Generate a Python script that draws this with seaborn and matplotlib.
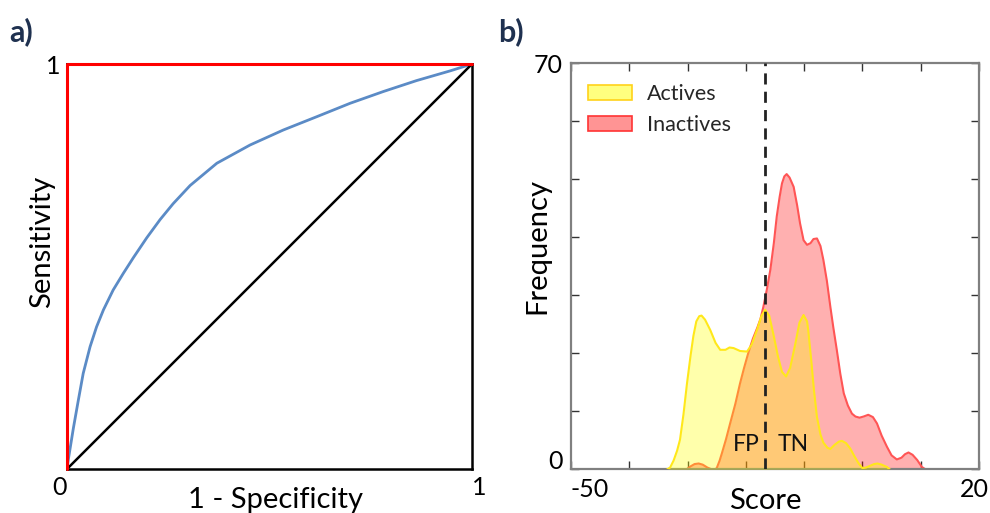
import numpy as np
import pandas as pd
import matplotlib
matplotlib.use("Agg")
import matplotlib.pyplot as plt
from matplotlib.patches import Patch
from matplotlib.transforms import ScaledTranslation
import seaborn as sns

# ---------------- data ----------------
roc_fpr = [0, 0.004, 0.0156, 0.028, 0.040, 0.057, 0.073, 0.090, 0.114, 0.139, 0.164,
           0.197, 0.230, 0.262, 0.304, 0.370, 0.452, 0.534, 0.617, 0.699, 0.781,
           0.863, 0.946, 1.0]
roc_tpr = [0, 0.028, 0.100, 0.170, 0.236, 0.302, 0.351, 0.393, 0.442, 0.483, 0.522,
           0.571, 0.616, 0.655, 0.700, 0.755, 0.800, 0.837, 0.870, 0.903, 0.932,
           0.959, 0.983, 1.0]
perfect_x = [0, 0, 1]
perfect_y = [0, 1, 1]
random_x = [0, 1]
random_y = [0, 1]

actives_x = [-33.5, -33.0, -32.4, -31.8, -31.3, -30.7, -30.1, -29.5, -29.0, -28.5, -28.0,
             -27.6, -27.0, -26.1, -25.2, -24.4, -23.5, -22.8, -22.1, -21.0, -19.8, -19.0,
             -18.1, -17.3, -16.7, -16.0, -15.3, -14.5, -13.8, -13.1, -12.4, -11.5, -10.8,
             -10.1, -9.5, -9.3, -8.8, -8.3, -7.8, -7.2, -6.7, -6.0, -5.5, -4.8, -4.0, -3.5,
             -2.8, -2.1, -1.4, -0.7, 0.0, 0.6, 1.3, 2.0, 2.6, 3.3, 4.2, 4.7]
actives_y = [0, 0.3, 1.5, 3.2, 5.1, 9.5, 14.8, 19.5, 23.0, 25.5, 26.4,
             26.5, 25.8, 24.0, 21.8, 20.6, 20.6, 21.0, 20.9, 20.4, 20.3, 21.5,
             24.0, 26.5, 27.5, 26.5, 23.4, 19.5, 16.8, 16.0, 17.5, 21.7, 25.3,
             26.6, 25.5, 24.0, 19.0, 13.5, 9.0, 6.0, 4.6, 3.7, 3.5, 4.2, 4.8, 4.9,
             4.5, 3.6, 2.3, 1.1, 0.2, 0.3, 0.6, 0.9, 1.0, 0.8, 0.4, 0]

inactives_x = [-31.0, -30.1, -29.5, -28.8, -28.1, -27.4, -26.6, -26.0, -25.3, -25.0, -24.5,
               -24.1, -23.4, -22.7, -21.8, -21.0, -20.3, -19.6, -18.8, -18.0, -17.5, -17.0,
               -16.4, -15.8, -15.2, -14.7, -14.2, -13.8, -13.4, -13.0, -12.5, -11.8, -11.2,
               -10.7, -10.1, -9.5, -8.9, -8.4, -7.8, -7.2, -6.7, -6.1, -5.5, -5.0, -4.4,
               -3.8, -3.2, -2.5, -1.8, -1.2, -0.5, 0.2, 1.0, 1.8, 2.5, 3.3, 4.2, 5.0, 5.9,
               6.7, 7.3, 7.9, 8.6, 9.4, 10.2, 10.8]
inactives_y = [0, 0.05, 0.5, 0.9, 1.0, 0.8, 0.3, 0.05, 0.0, 0.2, 1.5,
               2.8, 5.2, 7.9, 11.3, 14.8, 17.5, 20.0, 22.5, 24.5, 25.9, 28.0,
               31.0, 34.4, 39.0, 43.6, 47.0, 49.3, 50.5, 50.9, 50.3, 48.7, 45.5,
               42.4, 39.5, 38.7, 39.0, 39.7, 39.8, 38.5, 36.1, 32.5, 28.0, 24.5, 20.6,
               16.5, 13.1, 11.0, 9.6, 9.1, 8.9, 9.1, 9.4, 9.0, 7.9, 5.8, 3.9, 2.4, 1.7,
               2.0, 2.6, 2.9, 2.5, 1.6, 0.4, 0]

threshold = -16.8
series_names = ["Actives", "Inactives"]
score_ticks = [-50, -40, -30, -20, -10, 0, 10, 20]
freq_ticks = [0, 10, 20, 30, 40, 50, 60, 70]

# ---------------- style ----------------
sns.set_theme(style="white")
plt.rcParams['font.family'] = ['Lato', 'DejaVu Sans']

fig = plt.figure(figsize=(9.9, 5.13), dpi=100)
axA = fig.add_axes([67/990, 1-469/513, 405/990, 405/513])
axB = fig.add_axes([571/990, 1-469.3/513, 408/990, 406/513])

TICK_FS = 18
LABEL_FS = 21

# ---------------- panel a ----------------
df_roc = pd.DataFrame({"fpr": roc_fpr, "tpr": roc_tpr})
sns.lineplot(data=df_roc, x="fpr", y="tpr", ax=axA, color="#5B8BC6", lw=2,
             sort=False, estimator=None)
sns.lineplot(x=random_x, y=random_y, ax=axA, color="black", lw=1.8,
             sort=False, estimator=None)
sns.lineplot(x=perfect_x, y=perfect_y, ax=axA, color="#FF0000", lw=2.2,
             sort=False, estimator=None, clip_on=False, zorder=5)
axA.set_xlim(0, 1)
axA.set_ylim(0, 1)
for s in axA.spines.values():
    s.set_color("black")
    s.set_linewidth(1.8)
axA.set_xticks([0, 1])
axA.set_xticklabels(["0", "1"])
axA.set_yticks([1])
axA.set_yticklabels(["1"])
axA.tick_params(length=0, labelsize=TICK_FS, pad=5, colors="black")
axA.get_xticklabels()[0].set_ha("right")
axA.get_xticklabels()[1].set_ha("left")
axA.set_xlabel("1 - Specificity", fontsize=LABEL_FS, color="black")
axA.set_ylabel("Sensitivity", fontsize=LABEL_FS, color="black")
axA.xaxis.set_label_coords(0.514, -0.045)
axA.yaxis.set_label_coords(-0.062, 0.56)
axA.yaxis.label.set_va("center")

# ---------------- panel b ----------------
df_act = pd.DataFrame({"score": actives_x, "freq": actives_y})
df_inact = pd.DataFrame({"score": inactives_x, "freq": inactives_y})

red_fill = (1.0, 0.0, 0.0, 0.31)
yel_fill = (1.0, 1.0, 0.0, 0.33)
red_edge = "#FF5555"
yel_edge = "#FFE81A"

axB.fill_between(df_inact["score"], 0, df_inact["freq"], color=red_fill, lw=0, zorder=1)
sns.lineplot(data=df_inact, x="score", y="freq", ax=axB, color=red_edge, lw=1.5,
             sort=False, estimator=None, zorder=2)
axB.fill_between(df_act["score"], 0, df_act["freq"], color=yel_fill, lw=0, zorder=3)
sns.lineplot(data=df_act, x="score", y="freq", ax=axB, color=yel_edge, lw=1.5,
             sort=False, estimator=None, zorder=4)
axB.axvline(threshold, color="#222222", lw=2, ls=(0, (4, 2.6)), zorder=5)

axB.text(-19.9, 4.2, "FP", fontsize=16.5, ha="center", va="center", color="#111111", zorder=6)
axB.text(-11.9, 4.2, "TN", fontsize=16.5, ha="center", va="center", color="#111111", zorder=6)

axB.set_xlim(-50, 20)
axB.set_ylim(0, 70)
axB.set_xticks(score_ticks)
axB.set_xticklabels(["-50"] + [""] * 6 + ["20"])
axB.set_yticks(freq_ticks)
axB.set_yticklabels(["0"] + [""] * 6 + ["70"])
axB.tick_params(direction="in", length=6, width=1, colors="#333333",
                top=True, right=True, bottom=True, left=True, labelsize=TICK_FS, pad=6)
axB.tick_params(labelcolor="black")
xt = axB.get_xticklabels()
xt[0].set_ha("left")
xt[-1].set_transform(xt[-1].get_transform() + ScaledTranslation(-5/100, 0, fig.dpi_scale_trans))
axB.get_yticklabels()[0].set_va("baseline")
for s in axB.spines.values():
    s.set_color("#808080")
    s.set_linewidth(1.6)
axB.set_xlabel("Score", fontsize=LABEL_FS, color="black")
axB.set_ylabel("Frequency", fontsize=LABEL_FS, color="black")
axB.xaxis.set_label_coords(0.475, -0.045)
axB.yaxis.set_label_coords(-0.083, 0.55)
axB.yaxis.label.set_va("center")

handles = [Patch(facecolor=(1.0, 1.0, 0.0, 0.5), edgecolor="#FFD21A", lw=1.2),
           Patch(facecolor=(1.0, 0.0, 0.0, 0.42), edgecolor="#FF3333", lw=1.2)]
axB.legend(handles, series_names, loc="upper left", frameon=False, fontsize=15.5,
           handlelength=2.05, handleheight=0.7, handletextpad=0.7, labelspacing=0.5,
           borderaxespad=0, borderpad=0, bbox_to_anchor=(0.042, (469.3 - 84) / 406))

# panel labels
fig.text(9/990, 1-32/513, "a)", fontsize=22, fontweight="bold", color="#1F3150",
         va="center", ha="left")
fig.text(498/990, 1-32/513, "b)", fontsize=22, fontweight="bold", color="#1F3150",
         va="center", ha="left")

fig.savefig("out.png", dpi=100)
